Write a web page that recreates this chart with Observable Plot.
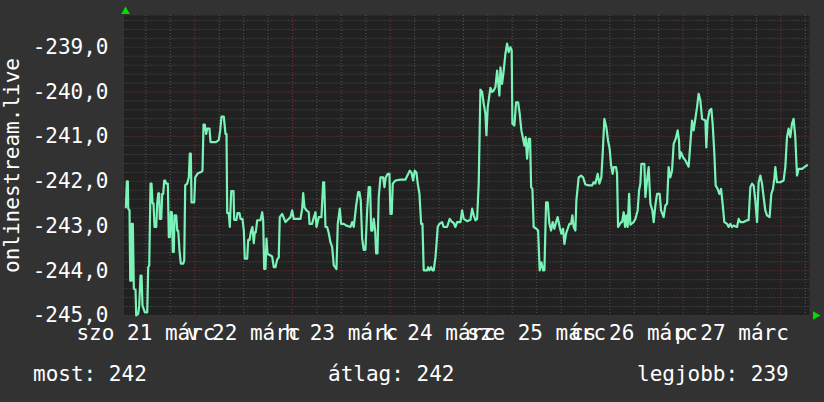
<!DOCTYPE html>
<html>
<head>
<meta charset="utf-8">
<script src="https://cdn.jsdelivr.net/npm/d3@7"></script>
<script src="https://cdn.jsdelivr.net/npm/@observablehq/plot@0.6"></script>
<style>
  html, body { margin: 0; padding: 0; background: #323232; }
  #wrap { position: relative; width: 824px; height: 402px; overflow: hidden; font-family: "DejaVu Sans Mono", monospace; }
  #legend span { position: absolute; top: 362px; font-size: 21px; color: #ffffff; white-space: pre; line-height: normal; }
</style>
</head>
<body>
<div id="wrap">
  <div id="chart"></div>
  <div id="legend"></div>
</div>
<script>
// ---- data (hours since 2026-03-21 00:00, value) ----
const hours = [7.05,7.30,7.54,7.64,7.96,8.13,8.45,8.52,8.77,9.02,9.43,9.60,10.10,10.34,10.66,10.91,11.15,11.72,12.31,12.55,12.80,13.12,13.36,13.61,13.85,14.10,14.52,14.76,15.01,15.25,15.40,15.75,15.99,16.24,16.48,16.73,16.97,17.37,17.61,17.86,18.10,18.35,18.60,18.84,19.01,19.43,19.68,19.92,20.24,20.56,21.15,21.40,21.64,22.13,22.53,22.77,23.02,23.19,23.85,24.10,24.74,25.57,25.89,26.14,26.46,26.80,27.05,27.61,27.86,29.26,29.90,30.24,30.56,31.12,31.54,31.79,31.96,32.35,32.60,32.94,33.51,33.68,34.24,34.49,34.98,35.23,35.72,36.04,36.28,36.87,37.12,37.44,37.85,38.17,38.49,38.74,38.98,39.33,40.14,40.56,40.80,41.05,41.37,41.61,41.86,43.01,43.41,43.82,44.24,44.63,44.88,45.47,46.28,46.70,47.51,47.93,48.32,49.97,50.38,50.63,50.95,51.44,52.00,52.18,52.84,53.16,53.65,53.90,54.46,55.12,55.54,55.79,56.11,56.52,56.92,57.33,57.75,58.15,58.81,59.13,59.62,59.96,60.60,61.26,62.25,62.67,63.06,63.65,64.14,64.46,64.78,65.12,65.51,65.93,66.35,66.74,67.09,67.33,67.65,67.97,68.32,68.56,68.88,69.20,69.62,70.28,70.60,70.92,71.41,71.83,72.07,72.39,72.64,73.30,74.53,75.76,76.82,77.23,77.65,78.04,78.46,78.78,79.20,79.62,79.94,80.25,81.09,81.33,81.65,82.07,82.39,82.71,83.13,83.37,83.69,84.11,84.77,85.16,85.99,86.64,87.23,87.62,88.04,88.46,89.27,89.69,90.08,90.92,91.73,92.15,92.54,92.95,93.37,93.76,94.01,94.18,94.60,94.99,95.41,95.66,95.98,96.32,96.64,97.06,97.45,97.87,98.29,98.61,98.85,99.10,99.51,99.91,100.32,100.74,101.13,101.55,101.87,102.04,102.53,102.95,103.44,103.84,104.25,104.67,104.99,105.31,105.65,106.05,106.39,106.64,106.96,107.27,107.94,108.36,108.75,109.17,109.58,109.91,110.32,110.72,111.13,111.55,111.94,112.36,112.78,113.17,113.66,114.08,114.50,114.82,115.23,115.63,116.05,116.46,116.78,117.10,117.52,117.76,118.33,118.92,119.41,119.98,120.79,121.62,122.01,122.43,123.00,123.41,123.90,124.23,124.64,125.13,125.55,125.94,126.29,126.68,126.93,127.52,127.76,128.01,128.75,128.99,129.39,129.73,130.05,130.37,130.72,131.03,131.84,132.26,132.82,133.17,133.49,133.73,134.47,134.72,135.13,135.53,135.95,136.44,136.76,137.17,137.59,138.23,138.57,139.21,139.63,140.05,140.44,140.86,141.27,141.67,142.16,142.65,142.99,143.14,143.49,143.98,144.54,145.35,145.77,146.19,146.58,147.00,147.42,147.81,148.23,148.65,149.46,149.70,150.02,150.51,150.93,151.25,151.67,151.99,152.48,152.90,153.31,153.70,154.12,154.78,155.18,155.59,156.01,156.40,157.24,157.64,158.06,158.87,159.69,160.09,160.51,160.93,161.32,161.74,162.16,162.55,162.97,163.38,163.78,164.19,164.61,165.25,165.67,166.08,166.40,166.65,167.06,167.87,168.69,169.11,169.52,169.91,170.33,170.75,171.14,171.56,171.98,172.37,173.21,173.77,174.43];

const values = [-242.58,-242.00,-242.00,-242.61,-242.65,-244.22,-244.22,-242.95,-242.95,-244.40,-244.42,-245.00,-244.96,-244.78,-244.11,-244.11,-244.78,-244.93,-244.93,-243.92,-243.88,-242.05,-242.05,-242.49,-242.49,-243.02,-243.02,-242.49,-242.27,-242.27,-242.84,-242.84,-242.28,-242.28,-241.98,-241.98,-242.05,-242.05,-243.25,-243.25,-242.69,-242.69,-243.58,-243.58,-242.76,-242.76,-243.10,-243.10,-243.55,-243.84,-243.84,-243.77,-242.09,-242.05,-241.91,-241.38,-241.38,-242.47,-242.47,-241.91,-241.82,-241.79,-241.76,-240.73,-240.73,-240.94,-240.82,-240.82,-241.12,-241.12,-241.07,-240.86,-240.55,-240.55,-240.94,-240.94,-242.71,-242.71,-243.02,-242.22,-242.22,-242.86,-242.86,-242.71,-242.71,-242.84,-242.84,-243.10,-243.73,-243.73,-243.31,-243.31,-243.10,-243.02,-243.38,-243.14,-243.14,-242.87,-242.87,-242.69,-242.87,-243.96,-243.96,-243.28,-243.62,-243.68,-243.92,-243.92,-243.75,-243.70,-242.80,-242.73,-242.91,-242.87,-242.80,-242.65,-242.84,-242.84,-242.61,-242.26,-242.58,-242.65,-242.69,-242.95,-242.95,-242.83,-242.69,-243.02,-242.80,-242.80,-242.02,-242.02,-243.02,-243.02,-243.16,-243.36,-243.47,-243.88,-243.96,-242.95,-242.61,-242.95,-242.95,-242.99,-243.02,-242.91,-243.02,-242.54,-242.24,-242.24,-242.43,-243.28,-243.53,-243.53,-242.65,-242.13,-242.13,-243.10,-243.10,-242.84,-243.10,-243.61,-243.61,-242.35,-241.91,-241.91,-242.13,-241.91,-241.83,-241.83,-242.73,-242.73,-242.05,-241.98,-241.96,-241.96,-241.76,-241.80,-241.98,-241.76,-241.80,-242.05,-242.28,-242.95,-242.95,-243.99,-243.99,-243.92,-243.99,-243.92,-243.99,-243.99,-243.70,-243.43,-243.02,-242.95,-242.91,-243.02,-243.02,-242.84,-242.91,-242.93,-243.02,-242.91,-242.91,-242.65,-242.84,-242.89,-242.86,-242.61,-242.76,-242.87,-242.84,-242.05,-240.86,-239.95,-240.00,-240.26,-240.49,-240.97,-240.34,-240.12,-239.91,-240.00,-239.97,-239.89,-239.52,-239.85,-240.08,-239.45,-239.82,-239.52,-239.15,-238.92,-239.11,-239.00,-239.07,-240.71,-240.75,-240.23,-240.23,-240.49,-240.86,-241.05,-241.20,-241.01,-241.49,-241.05,-241.05,-242.13,-242.17,-243.02,-243.06,-243.10,-243.99,-243.81,-243.99,-243.99,-242.47,-242.47,-242.95,-243.10,-242.91,-243.06,-242.91,-242.80,-243.02,-243.17,-243.06,-243.40,-243.17,-243.06,-242.95,-242.95,-242.76,-243.02,-243.10,-242.43,-241.91,-241.87,-241.91,-242.07,-242.09,-242.09,-242.02,-242.05,-241.83,-242.05,-241.91,-241.38,-240.60,-240.79,-241.09,-241.27,-241.64,-241.83,-241.68,-241.68,-241.83,-243.02,-242.91,-242.91,-242.69,-243.02,-242.76,-243.02,-242.28,-242.97,-242.91,-242.84,-242.65,-242.20,-242.05,-241.61,-241.61,-242.35,-241.98,-241.68,-242.50,-242.65,-242.91,-242.54,-242.28,-242.28,-242.65,-242.80,-242.54,-242.50,-241.68,-241.91,-241.76,-241.16,-241.05,-240.86,-241.09,-241.49,-241.35,-241.46,-241.53,-241.67,-241.16,-240.64,-240.86,-240.60,-240.34,-240.04,-240.19,-240.60,-240.64,-241.24,-240.64,-240.41,-240.38,-240.71,-241.38,-242.09,-242.17,-242.28,-242.17,-242.50,-242.91,-242.95,-243.02,-242.95,-243.02,-242.99,-243.02,-242.84,-242.91,-242.91,-242.87,-242.87,-242.13,-242.05,-242.09,-242.43,-242.91,-242.02,-241.87,-242.05,-242.35,-242.65,-242.76,-242.80,-242.28,-242.17,-241.94,-241.68,-242.02,-242.02,-241.98,-241.68,-241.01,-240.82,-241.01,-240.71,-240.60,-241.01,-241.87,-241.72,-241.72,-241.68,-241.64];

const dayTickHours = [12, 36, 60, 84, 108, 132, 156];
const dayTickLabels = ["szo 21 márc", "v 22 márc", "h 23 márc", "k 24 márc", "sze 25 márc", "cs 26 márc", "p 27 márc"];
const yTicks = [-245, -244, -243, -242, -241, -240, -239];
const yTitle = "onlinestream.live";
const legendItems = [["most: 242", 33], ["átlag: 242", 328], ["legjobb: 239", 637]];

// ---- build ----
const T0 = Date.UTC(2026, 2, 21);
const toDate = h => new Date(T0 + h * 3600e3);
const n = Math.min(hours.length, values.length);
const data = d3.range(n).map(i => ({t: toDate(hours[i]), v: values[i]}));

const xDomain = [toDate(6.6), toDate(175.05)];
const yDomain = [-245, -238.29];
const minorY = d3.range(0, 34).map(i => -245 + i * 0.2).filter(v => Math.abs(v - Math.round(v)) > 1e-6);
const minorX = d3.range(12, 175, 6).filter(h => h % 24 !== 0).map(toDate);
const majorX = d3.range(24, 175, 24).map(toDate);
const fmtY = d => d.toFixed(1).replace(".", ",");

const FONT = "DejaVu Sans Mono, monospace";
const chart = Plot.plot({
  width: 824,
  height: 350,
  marginLeft: 123.5,
  marginRight: 15,
  marginTop: 15,
  marginBottom: 35,
  style: {background: "transparent", color: "#ffffff", fontFamily: FONT, fontSize: "21px", overflow: "visible"},
  x: {type: "utc", domain: xDomain, label: null},
  y: {domain: yDomain, label: null},
  marks: [
    Plot.frame({fill: "#212121", stroke: null}),
    Plot.ruleY(minorY, {stroke: "#555555", strokeDasharray: "1,2"}),
    Plot.ruleX(minorX, {stroke: "#555555", strokeDasharray: "1,2"}),
    Plot.ruleY(yTicks, {stroke: "#873030", strokeDasharray: "1,2"}),
    Plot.ruleX(majorX, {stroke: "#873030", strokeDasharray: "1,2"}),
    Plot.line(data, {x: "t", y: "v", stroke: "#7af2b8", strokeWidth: 2.2, curve: "linear"}),
    Plot.axisY(yTicks, {label: null, tickSize: 0, tickPadding: 15.5, tickFormat: fmtY, fontSize: 21, fill: "#ffffff"}),
    Plot.axisX(dayTickHours.map(toDate), {label: null, tickSize: 0, tickPadding: 9.5, tickFormat: (d, i) => dayTickLabels[i], fontSize: 21, fill: "#ffffff"}),
    Plot.text([yTitle], {frameAnchor: "left", dx: -112, rotate: -90, textAnchor: "middle", lineAnchor: "middle", fontSize: 21, fill: "#ffffff"}),
    Plot.dot([0], {frameAnchor: "top-left", dx: 1.5, dy: -4, symbol: "triangle", r: 3.2, fill: "#00dd00", stroke: null}),
    Plot.dot([0], {frameAnchor: "bottom-right", dx: 6, dy: 0, symbol: "triangle", rotate: 90, r: 3.2, fill: "#00dd00", stroke: null})
  ]
});
document.getElementById("chart").appendChild(chart);

const legend = document.getElementById("legend");
for (const [txt, left] of legendItems) {
  const s = document.createElement("span");
  s.textContent = txt;
  s.style.left = left + "px";
  legend.appendChild(s);
}
</script>
</body>
</html>
